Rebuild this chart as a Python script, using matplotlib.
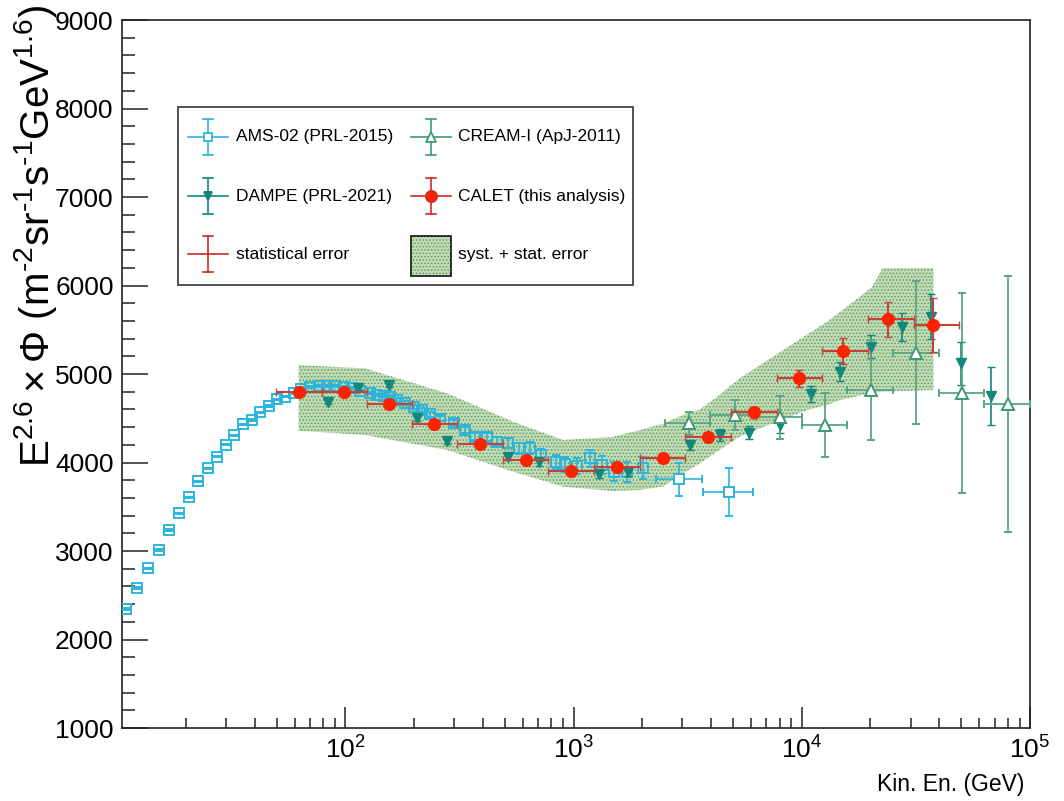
import numpy as np
import matplotlib
matplotlib.use('Agg')
import matplotlib.pyplot as plt
import matplotlib.ticker as ticker
from matplotlib.patches import Rectangle

# ---- data ----------------------------------------------------------------
ams_e = [10.9, 12.2, 13.6, 15.2, 16.8, 18.7, 20.6, 22.7, 24.9, 27.3,
         29.9, 32.6, 35.6, 39.0, 42.4, 46.2, 50.2, 54.6, 59.4, 64.0,
         70.3, 76.4, 83.1, 90.4, 98.3, 107, 116, 128, 138, 147,
         157, 169, 183, 199, 217, 236, 260, 298, 333, 371,
         417, 461, 516, 574, 641, 721, 838, 921, 1035, 1185,
         1331, 1497, 1711, 2023, 2900, 4780]
ams_y = [2345, 2582, 2805, 3011, 3237, 3426, 3607, 3788, 3934, 4066,
         4201, 4307, 4432, 4480, 4567, 4638, 4714, 4743, 4782, 4827,
         4857, 4865, 4865, 4865, 4857, 4839, 4811, 4782, 4763, 4752,
         4737, 4706, 4669, 4631, 4593, 4545, 4495, 4443, 4367, 4292,
         4292, 4235, 4217, 4161, 4161, 4085, 4009, 3983, 3961, 4048,
         3972, 3896, 3896, 3935, 3810, 3670]
ams_yerr = [8, 8, 8, 8, 8, 8, 8, 8, 8, 8,
            8, 8, 8, 8, 8, 8, 8, 8, 8, 8,
            12, 12, 12, 12, 12, 12, 12, 12, 12, 12,
            20, 20, 22, 24, 26, 28, 30, 34, 38, 42,
            46, 50, 55, 60, 66, 72, 80, 85, 90, 95,
            100, 105, 115, 125, 190, 270]
# only the widest AMS bins show a visible horizontal bar
ams_wide_e = [2900, 4780]
ams_wide_y = [3810, 3670]
ams_wide_lo = [2300, 3700]
ams_wide_hi = [3650, 6100]
ams_wide_err = [190, 270]

dampe_e = [84, 114, 156, 206, 279, 516, 703, 1294, 1733, 3230,
           4370, 5890, 8010, 10990, 14740, 20200, 27400, 37000, 49800, 67800]
dampe_y = [4687, 4839, 4876, 4500, 4244, 4066, 4002, 3870, 3896, 4198,
           4311, 4337, 4424, 4774, 5027, 5310, 5535, 5650, 5121, 4752]
dampe_yerr = [25, 25, 28, 30, 32, 35, 38, 45, 50, 60,
              65, 75, 85, 95, 105, 130, 160, 250, 240, 330]

cream_e = [3200, 5080, 8040, 12700, 20100, 31800, 50200, 79900]
cream_y = [4443, 4537, 4511, 4424, 4819, 5241, 4782, 4661]
cream_yerr = [130, 170, 245, 360, 560, 806, 1130, 1450]
cream_lo = [2512, 3981, 6310, 10000, 15849, 25119, 39811, 63096]
cream_hi = [3981, 6310, 10000, 15849, 25119, 39811, 63096, 100000]

calet_e = [62.4, 99, 156, 245, 390, 618, 977, 1549, 2455, 3883,
           6150, 9690, 15150, 23900, 37750]
calet_y = [4800, 4800, 4658, 4432, 4206, 4028, 3904, 3953, 4047, 4292,
           4567, 4951, 5260, 5618, 5554]
calet_stat = [15, 15, 18, 20, 22, 25, 28, 32, 40, 45,
              60, 100, 150, 200, 300]
calet_edges = [49.8, 78.6, 124, 196, 309, 490, 776, 1230, 1950, 3090,
               4900, 7760, 12300, 19500, 30900, 48900]

band_e = [62.4, 122, 280, 544, 900, 1488, 1950, 2472, 3030, 3580,
          4260, 5330, 7480, 10600, 12920, 14700, 20400, 22600, 37750]
band_hi = [5100, 5064, 4780, 4460, 4255, 4290, 4367, 4440, 4540, 4600,
           4744, 4950, 5196, 5450, 5591, 5700, 5987, 6198, 6198]
band_lo = [4359, 4311, 4141, 3896, 3727, 3678, 3690, 3730, 3880, 3990,
           4125, 4290, 4446, 4593, 4650, 4706, 4786, 4800, 4819]

# ---- style ---------------------------------------------------------------
plt.rcParams.update({
    "font.family": "Liberation Sans",
    "mathtext.fontset": "custom",
    "mathtext.rm": "Liberation Sans",
    "mathtext.it": "Liberation Sans:italic",
    "mathtext.bf": "Liberation Sans:bold",
    "hatch.linewidth": 0.7,
})

C_AMS = '#2cb4dc'
C_CREAM = '#3f9a72'
C_DAMPE = '#12877b'
C_CALET = '#ff2200'
C_CALET_ERR = '#c8403a'
C_BAND = '#c2dbb8'
C_BAND_DOT = '#5f9f5c'

fig = plt.figure(figsize=(10.64, 8.01), dpi=100)
ax = fig.add_axes([0.1147, 0.0911, 0.8533, 0.8839])

# ---- band ----------------------------------------------------------------
ax.fill_between(band_e, band_lo, band_hi, facecolor=C_BAND, edgecolor=C_BAND_DOT,
                hatch='.....', lw=0, zorder=1)

# ---- AMS -----------------------------------------------------------------
ax.errorbar(ams_e[:-2], ams_y[:-2], yerr=ams_yerr[:-2], fmt='s', ms=7.5,
            mfc='none', mec=C_AMS, mew=1.4, ecolor=C_AMS, elinewidth=1.2,
            capsize=3, zorder=3)
ams_xerr = [np.array(ams_wide_e) - np.array(ams_wide_lo),
            np.array(ams_wide_hi) - np.array(ams_wide_e)]
ax.errorbar(ams_wide_e, ams_wide_y, xerr=ams_xerr, yerr=ams_wide_err, fmt='s',
            ms=7.5, mfc='white', mec=C_AMS, mew=1.4, ecolor=C_AMS,
            elinewidth=1.2, capsize=3, zorder=3)

# ---- DAMPE ---------------------------------------------------------------
ax.errorbar(dampe_e, dampe_y, yerr=dampe_yerr, fmt='v', ms=7, color=C_DAMPE,
            ecolor=C_DAMPE, elinewidth=1.2, capsize=3, zorder=4)

# ---- CREAM ---------------------------------------------------------------
cream_xerr = [np.array(cream_e) - np.array(cream_lo),
              np.array(cream_hi) - np.array(cream_e)]
ax.errorbar(cream_e, cream_y, xerr=cream_xerr, yerr=cream_yerr, fmt='^', ms=8,
            mfc='white', mec=C_CREAM, mew=1.4, ecolor='#5aa584',
            elinewidth=1.3, capsize=3, zorder=4)

# ---- CALET ---------------------------------------------------------------
ce = np.array(calet_e)
edges = np.array(calet_edges)
calet_xerr = [ce - edges[:-1], edges[1:] - ce]
ax.errorbar(calet_e, calet_y, xerr=calet_xerr, yerr=calet_stat, fmt='o', ms=8.5,
            mfc=C_CALET, mec=C_CALET, ecolor=C_CALET_ERR, elinewidth=1.5,
            capsize=3, zorder=5)

# ---- axes ----------------------------------------------------------------
ax.set_xscale('log')
ax.set_xlim(10.5, 1e5)
ax.set_ylim(1000, 9000)
ax.yaxis.set_major_locator(ticker.MultipleLocator(1000))
ax.yaxis.set_minor_locator(ticker.MultipleLocator(200))
ax.xaxis.set_major_locator(ticker.LogLocator(base=10))
ax.xaxis.set_minor_locator(ticker.LogLocator(base=10, subs=np.arange(2, 10)))
ax.xaxis.set_minor_formatter(ticker.NullFormatter())
ax.tick_params(which='both', direction='in', top=False, right=False,
               color='#222222', width=1.1, labelsize=19)
ax.tick_params(axis='y', which='major', length=19, pad=6)
ax.tick_params(axis='y', which='minor', length=9.5)
ax.tick_params(axis='x', which='major', length=15, pad=6)
ax.tick_params(axis='x', which='minor', length=7.5)
for s in ax.spines.values():
    s.set_linewidth(1.2)
    s.set_color('#222222')

fig.text(0.033, 0.994,
         r'E$^{2.6}\times\Phi$ (m$^{\text{-2}}$sr$^{\text{-1}}$s$^{\text{-1}}$GeV$^{1.6}$)',
         rotation=90, ha='center', va='top', fontsize=29)
fig.text(0.963, 0.02, 'Kin. En. (GeV)', ha='right', va='center', fontsize=16.5)

# ---- legend (drawn by hand, ROOT style) -----------------------------------
T = ax.transAxes
ax.add_patch(Rectangle((0.0617, 0.6257), 0.5011, 0.2513, transform=T,
                       facecolor='white', edgecolor='#333333', lw=1.2, zorder=10))


def leg_cross(xc, yc, color, marker=None, mfc=None, ms=7):
    dx, dy, cp = 0.022, 0.0254, 0.0055
    kw = dict(transform=T, color=color, lw=1.2, zorder=11, clip_on=False)
    ax.plot([xc - dx, xc + dx], [yc, yc], **kw)
    ax.plot([xc, xc], [yc - dy, yc + dy], **kw)
    ax.plot([xc - cp, xc + cp], [yc + dy, yc + dy], **kw)
    ax.plot([xc - cp, xc + cp], [yc - dy, yc - dy], **kw)
    if marker:
        ax.plot([xc], [yc], marker=marker, ms=ms, mfc=mfc, mec=color, mew=1.3,
                transform=T, zorder=12, clip_on=False, ls='none')


rows = [0.8352, 0.7514, 0.6691]
c1, c2 = 0.0943, 0.3403
t1, t2 = 0.1252, 0.3704
leg_cross(c1, rows[0], C_AMS, 's', 'white', 6)
leg_cross(c2, rows[0], C_CREAM, '^', 'white', 7)
leg_cross(c1, rows[1], C_DAMPE, 'v', C_DAMPE, 6)
leg_cross(c2, rows[1], '#d02b20', 'o', C_CALET, 8)
leg_cross(c1, rows[2], '#d02b20')
ax.add_patch(Rectangle((0.318, 0.6384), 0.044, 0.0569, transform=T,
                       facecolor=C_BAND, edgecolor=C_BAND_DOT, hatch='.....',
                       lw=0, zorder=11))
ax.add_patch(Rectangle((0.318, 0.6384), 0.044, 0.0569, transform=T,
                       facecolor='none', edgecolor='#222222', lw=1.3, zorder=12))

labels = [(t1, rows[0], 'AMS-02 (PRL-2015)'), (t2, rows[0], 'CREAM-I (ApJ-2011)'),
          (t1, rows[1], 'DAMPE (PRL-2021)'), (t2, rows[1], 'CALET (this analysis)'),
          (t1, rows[2], 'statistical error'), (t2, rows[2], 'syst. + stat. error')]
for x, y, s in labels:
    ax.text(x, y, s, transform=T, ha='left', va='center', fontsize=12.5, zorder=12)

fig.savefig('out.png', dpi=100)
